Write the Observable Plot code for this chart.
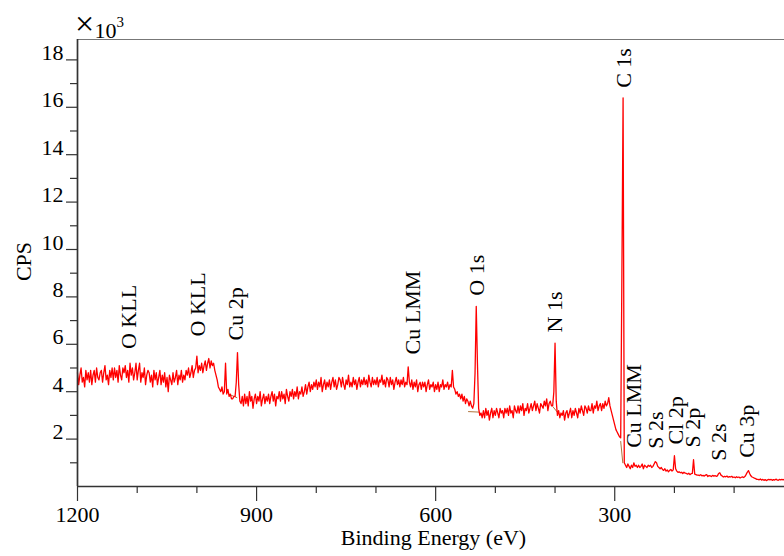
<!DOCTYPE html>
<html>
<head>
<meta charset="utf-8">
<script src="https://cdn.jsdelivr.net/npm/d3@7"></script>
<script src="https://cdn.jsdelivr.net/npm/@observablehq/plot@0.6"></script>
<style>
  html, body { margin: 0; padding: 0; background: #fff; }
  svg { display: block; }
</style>
</head>
<body>
<div id="chart"></div>
<script>
// XPS survey scan: sampled every 2 eV from 1200 eV downward; counts in 10^3 CPS
const scanStartEV = 1200;
const scanStepEV = 2;
const counts = [
  /* 1200 */ 4.8,4.3,4.7,5.0,4.4,4.6,4.2,4.9,4.5,4.8,
  /* 1180 */ 4.4,4.9,4.3,4.7,4.9,4.4,5.0,4.6,4.5,4.8,
  /* 1160 */ 4.9,4.4,4.8,5.1,4.5,4.7,4.3,4.9,4.6,5.0,
  /* 1140 */ 4.5,5.0,4.6,4.9,4.4,5.1,4.7,4.5,5.0,4.8,
  /* 1120 */ 5.1,4.6,4.9,4.4,5.2,4.7,5.0,4.5,4.8,5.2,
  /* 1100 */ 4.5,4.9,5.2,4.4,4.8,4.6,5.0,4.3,4.7,4.9,
  /* 1080 */ 4.8,4.4,4.7,4.2,4.9,4.5,4.8,4.3,4.6,4.9,
  /* 1060 */ 4.3,4.7,4.4,4.8,4.2,4.6,4.0,4.7,4.5,4.3,
  /* 1040 */ 4.8,4.4,4.6,4.9,4.3,4.7,4.5,4.9,4.4,4.7,
  /* 1020 */ 4.5,4.9,4.7,5.0,4.6,4.8,5.1,4.6,4.9,5.0,
  /* 1000 */ 5.5,4.8,5.1,4.9,5.2,4.8,5.1,5.3,4.9,5.2,
  /*  980 */ 5.4,5.0,5.3,5.1,5.2,4.9,4.7,4.5,4.2,4.1,
  /*  960 */ 4.0,4.2,3.9,4.0,5.2,3.9,4.1,3.8,3.9,3.7,
  /*  940 */ 3.7,3.8,3.8,4.4,5.65,4.3,3.6,3.5,3.8,3.4,
  /*  920 */ 3.9,3.5,3.8,3.4,4.0,3.6,3.8,3.3,3.7,3.9,
  /*  900 */ 3.5,3.8,3.6,4.0,3.4,3.7,3.9,3.5,3.8,3.6,
  /*  880 */ 3.9,3.5,3.8,4.0,3.6,3.9,3.4,3.8,3.7,4.0,
  /*  860 */ 3.6,4.0,3.7,3.9,3.5,4.1,3.8,3.6,4.0,3.8,
  /*  840 */ 4.1,3.7,4.0,3.8,4.2,3.7,4.0,3.9,4.2,3.8,
  /*  820 */ 4.0,4.3,3.9,4.2,4.4,4.0,4.3,4.1,4.4,4.2,
  /*  800 */ 4.5,4.1,4.4,4.2,4.6,4.0,4.3,4.5,4.1,4.4,
  /*  780 */ 4.2,4.5,4.1,4.4,4.6,4.2,4.5,4.1,4.3,4.6,
  /*  760 */ 4.5,4.2,4.6,4.3,4.1,4.5,4.3,4.7,4.2,4.4,
  /*  740 */ 4.2,4.6,4.3,4.5,4.1,4.4,4.6,4.2,4.5,4.3,
  /*  720 */ 4.6,4.3,4.5,4.2,4.7,4.4,4.2,4.6,4.3,4.5,
  /*  700 */ 4.3,4.6,4.2,4.5,4.4,4.7,4.3,4.5,4.2,4.6,
  /*  680 */ 4.5,4.2,4.6,4.3,4.5,4.1,4.4,4.6,4.3,4.5,
  /*  660 */ 4.2,4.5,4.3,4.6,4.2,4.4,4.3,5.05,4.4,4.2,
  /*  640 */ 4.5,4.1,4.4,4.2,4.5,4.0,4.3,4.4,4.1,4.4,
  /*  620 */ 4.2,4.4,4.0,4.3,4.5,4.1,4.3,4.2,4.4,4.0,
  /*  600 */ 4.3,4.1,4.4,4.0,4.3,4.2,4.5,4.1,4.3,4.2,
  /*  580 */ 4.4,4.1,4.3,4.2,4.9,4.2,4.1,3.9,4.0,3.8,
  /*  560 */ 3.9,3.7,3.9,3.6,3.8,3.5,3.7,3.6,3.4,3.6,
  /*  540 */ 3.4,3.3,3.5,4.8,7.6,5.2,3.3,3.0,3.1,2.9,
  /*  520 */ 3.2,2.9,3.3,3.0,3.2,2.8,3.1,3.3,2.9,3.2,
  /*  500 */ 3.0,3.3,3.1,2.9,3.3,3.1,3.2,2.9,3.3,3.1,
  /*  480 */ 3.3,3.0,3.4,3.1,3.2,2.9,3.4,3.2,3.1,3.4,
  /*  460 */ 3.1,3.4,3.2,3.5,3.0,3.3,3.2,3.5,3.1,3.3,
  /*  440 */ 3.5,3.2,3.4,3.6,3.2,3.5,3.3,3.1,3.5,3.4,
  /*  420 */ 3.3,3.6,3.4,3.7,3.2,3.5,3.6,3.4,3.4,4.0,
  /*  400 */ 6.05,3.6,3.0,3.2,2.9,3.1,3.0,3.2,2.8,3.1,
  /*  380 */ 3.2,2.9,3.1,3.3,2.9,3.2,3.0,3.3,3.1,2.9,
  /*  360 */ 3.3,3.1,3.4,3.2,3.0,3.4,3.3,3.1,3.4,3.2,
  /*  340 */ 3.2,3.5,3.1,3.4,3.3,3.6,3.2,3.4,3.5,3.2,
  /*  320 */ 3.5,3.3,3.6,3.4,3.5,3.75,3.4,3.2,3.0,2.8,
  /*  300 */ 2.6,2.4,2.3,2.2,2.1,2.05,9.0,16.4,1.0,0.9,
  /*  280 */ 0.8,0.95,0.85,0.75,0.9,0.8,1.0,0.85,0.9,0.8,
  /*  260 */ 0.9,0.8,0.85,0.95,0.75,0.9,0.85,0.8,0.9,0.85,
  /*  240 */ 0.9,0.8,0.85,0.95,1.05,1.0,0.85,0.8,0.75,0.8,
  /*  220 */ 0.72,0.68,0.75,0.65,0.7,0.62,0.68,0.72,0.65,0.7,
  /*  200 */ 1.3,0.75,0.65,0.6,0.62,0.58,0.6,0.55,0.6,0.56,
  /*  180 */ 0.55,0.52,0.56,0.5,0.54,0.55,1.13,0.52,0.5,0.48,
  /*  160 */ 0.48,0.46,0.5,0.45,0.47,0.44,0.48,0.5,0.42,0.46,
  /*  140 */ 0.45,0.42,0.47,0.44,0.46,0.43,0.45,0.55,0.58,0.48,
  /*  120 */ 0.44,0.4,0.43,0.41,0.44,0.39,0.42,0.4,0.43,0.38,
  /*  100 */ 0.4,0.37,0.41,0.38,0.4,0.36,0.39,0.41,0.38,0.42,
  /*   80 */ 0.5,0.6,0.67,0.55,0.45,0.4,0.38,0.35,0.33,0.3,
  /*   60 */ 0.3,0.28,0.32,0.27,0.3,0.26,0.29,0.25,0.28,0.3,
  /*   40 */ 0.28,0.3,0.26,0.29,0.27,0.31,0.28,0.26,0.3,0.28,
  /*   20 */ 0.3,0.28,0.3
];

// fitted background segments under peaks: [id, eV, counts]
const backgrounds = [
  ["Cu2p",947,3.9],["Cu2p",933,3.75],
  ["O1s",545,3.16],["O1s",528,3.14],
  ["N1s",403,3.35],["N1s",395,3.1],
  ["C1s",290,1.9],["C1s",286.5,1.0]
];

// peak labels
const labelNames  = ["O KLL","O KLL","Cu 2p","Cu LMM","O 1s","N 1s","C 1s","Cu LMM","S 2s","Cl 2p","S 2p","S 2s","Cu 3p"];
const labelEnergy = [1114, 998.6, 934.9, 637.4, 530.2, 400, 285, 267, 230.2, 197.5, 169, 125.4, 79.3];
const labelCounts = [5.8, 6.33, 6.16, 5.57, 8.05, 6.5, 16.82, 1.63, 1.59, 1.77, 1.65, 1.09, 1.21];

const xMajor = [1200, 900, 600, 300];
const xMinor = [1100, 1000, 800, 700, 500, 400, 200, 100];
const yMajor = [2, 4, 6, 8, 10, 12, 14, 16, 18];
const yMinor = [1, 3, 5, 7, 9, 11, 13, 15, 17];

const spectrum = counts.map((v, i) => ({e: scanStartEV - i * scanStepEV, v}));
const labels = labelNames.map((name, i) => ({name, e: labelEnergy[i], v: labelCounts[i]}));
const FONT = "'Liberation Serif', 'Times New Roman', serif";
const axisColor = "#333";
const ink = "#000";

const chart = Plot.plot({
  width: 784,
  height: 556,
  marginLeft: 77,
  marginRight: 0,
  marginTop: 39,
  marginBottom: 70,
  x: {type: "linear", domain: [1200, 15.6]},
  y: {type: "linear", domain: [0, 18.86]},
  style: {fontFamily: FONT, fontSize: "22px", background: "#fff", color: "#000"},
  marks: [
    Plot.ruleY([18.86], {stroke: "#777", strokeWidth: 1}),
    Plot.line(backgrounds, {x: d => d[1], y: d => d[2], z: d => d[0], stroke: "#b0743c", strokeWidth: 1}),
    Plot.line(spectrum, {x: "e", y: "v", stroke: "#ff0000", strokeWidth: 1.3}),
    Plot.ruleX([1200], {stroke: axisColor, strokeWidth: 1.7}),
    Plot.ruleY([0], {stroke: axisColor, strokeWidth: 1.7}),
    Plot.axisX({ticks: xMajor, tickSize: 15, tickFormat: () => "", stroke: axisColor, strokeWidth: 1.2, label: null}),
    Plot.axisX({ticks: xMinor, tickSize: 7, tickFormat: () => "", stroke: axisColor, strokeWidth: 1.2, label: null}),
    Plot.axisY({ticks: yMajor, tickSize: 11, tickFormat: () => "", stroke: axisColor, strokeWidth: 1.2, label: null}),
    Plot.axisY({ticks: yMinor, tickSize: 7, tickFormat: () => "", stroke: axisColor, strokeWidth: 1.2, label: null}),
    Plot.text(xMajor, {x: d => d, frameAnchor: "bottom", dy: 28, text: d => String(d), textAnchor: "middle", lineAnchor: "middle", fontSize: 22, fill: ink}),
    Plot.text(yMajor, {y: d => d, frameAnchor: "left", dx: -14, dy: -7, text: d => String(d), textAnchor: "end", lineAnchor: "middle", fontSize: 22, fill: ink}),
    Plot.text(["Binding Energy (eV)"], {frameAnchor: "bottom", dx: 2.5, dy: 51.5, text: d => d, textAnchor: "middle", lineAnchor: "middle", fontSize: 22, fill: ink}),
    Plot.text(["CPS"], {frameAnchor: "left", dx: -54, dy: -1.5, text: d => d, rotate: -90, textAnchor: "middle", lineAnchor: "middle", fontSize: 22, fill: ink}),
    Plot.text(["×"], {frameAnchor: "top-left", dx: -2.5, dy: -15.1, text: d => d, textAnchor: "start", lineAnchor: "middle", fontSize: 34, fill: ink}),
    Plot.text(["10"], {frameAnchor: "top-left", dx: 17, dy: -8.3, text: d => d, textAnchor: "start", lineAnchor: "middle", fontSize: 22, fill: ink}),
    Plot.text(["3"], {frameAnchor: "top-left", dx: 39, dy: -17.1, text: d => d, textAnchor: "start", lineAnchor: "middle", fontSize: 15, fill: ink}),
    Plot.text(labels, {x: "e", y: "v", text: "name", rotate: -90, textAnchor: "start", lineAnchor: "middle", fontSize: 22, fill: ink})
  ]
});

document.getElementById("chart").appendChild(chart);
</script>
</body>
</html>
